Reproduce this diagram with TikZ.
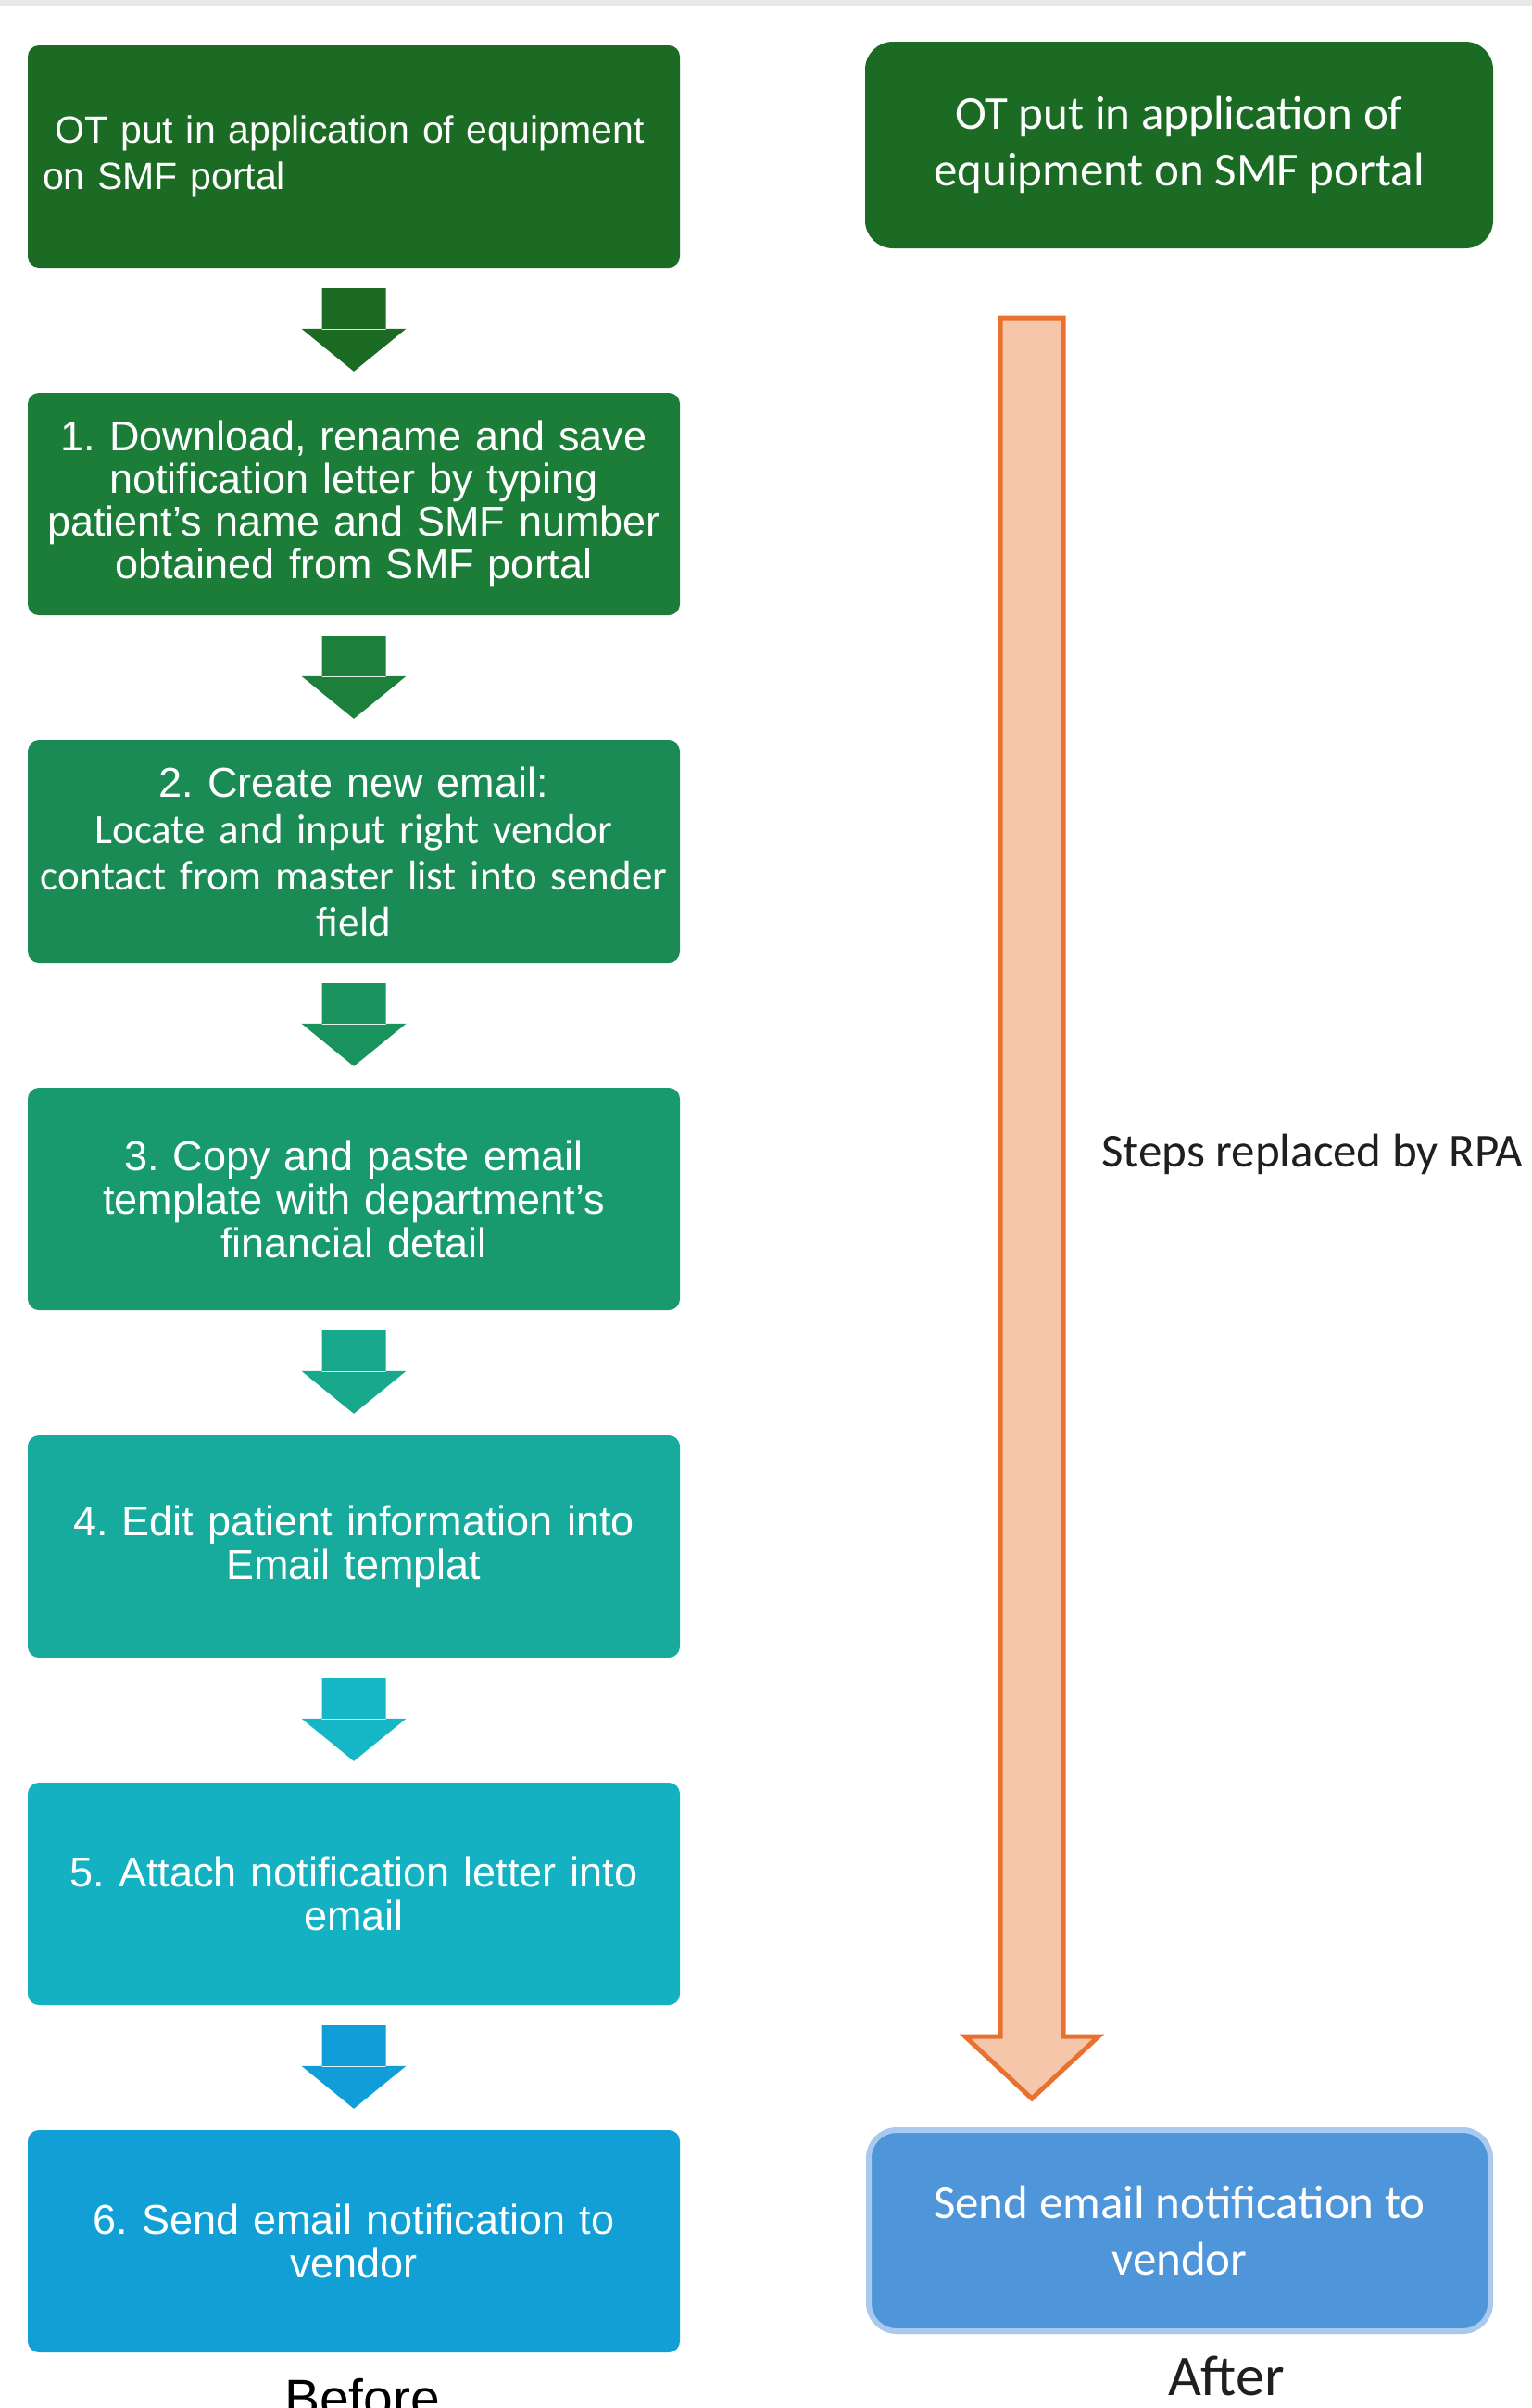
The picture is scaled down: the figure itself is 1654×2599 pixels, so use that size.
\documentclass[tikz,border=0pt]{standalone}
\usepackage{fontspec}
\setmainfont{Liberation Sans}
\newfontfamily\calibri{Carlito}
\usetikzlibrary{calc}
\frenchspacing

\definecolor{stepA}{HTML}{1B6B24}
\definecolor{stepB}{HTML}{1C7D38}
\definecolor{stepC}{HTML}{1B8B55}
\definecolor{stepD}{HTML}{19996E}
\definecolor{stepE}{HTML}{16AB9C}
\definecolor{stepF}{HTML}{14B1C3}
\definecolor{stepG}{HTML}{119FD6}
\definecolor{arrA}{HTML}{1B6B24}
\definecolor{arrB}{HTML}{1C7F3A}
\definecolor{arrC}{HTML}{1A935E}
\definecolor{arrD}{HTML}{18A88C}
\definecolor{arrE}{HTML}{15B7C6}
\definecolor{arrF}{HTML}{119ED8}
\definecolor{rpafill}{HTML}{F5C6AA}
\definecolor{rpaline}{HTML}{E9712F}
\definecolor{sendfill}{HTML}{4F95D9}
\definecolor{sendline}{HTML}{A9CAEE}

\begin{document}
\begin{tikzpicture}[x=1pt,y=-1pt,
  stepbox/.style={rounded corners=12pt, minimum width=704pt, minimum height=240pt,
    text width=700pt, inner sep=2pt, align=center, text=white,
    font=\fontsize{45}{47}\selectfont},
  afterbox/.style={rounded corners=30pt, minimum width=678pt, minimum height=223pt,
    align=center, text=white, font=\calibri\fontsize{51}{61}\selectfont}]

\useasboundingbox (0,0) rectangle (1654,2599);
\clip (0,0) rectangle (1654,2599);
\fill[gray!18] (0,0) rectangle (1654,7);

%%% Before

\node[stepbox, fill=stepA, align=left, text width=672pt, inner sep=16pt,
  font=\fontsize{41}{50}\selectfont] (s0) at (382,169)
  {\ OT put in application of equipment\\on SMF portal};
\node[stepbox, fill=stepB, font=\fontsize{45}{46}\selectfont] (s1) at (382,544)
  {1. Download, rename and save\\notification letter by typing\\patient's name and SMF number\\obtained from SMF portal};
\node[stepbox, fill=stepC, font=\fontsize{45}{50}\selectfont] (s2) at (382,919)
  {2. Create new email:\\\calibri\fontsize{45}{50}\selectfont Locate and input right vendor\\contact from master list into sender\\field};
\node[stepbox, fill=stepD] (s3) at (382,1294)
  {3. Copy and paste email\\template with department's\\financial detail};
\node[stepbox, fill=stepE] (s4) at (382,1669)
  {4. Edit patient information into\\Email templat};
\node[stepbox, fill=stepF] (s5) at (382,2044)
  {5. Attach notification letter into\\email};
\node[stepbox, fill=stepG] (s6) at (382,2419)
  {6. Send email notification to\\vendor};

% arrows
\fill[arrA] ($(s0.south)+(-34.5,22)$) rectangle ($(s1.north)+(34.5,-68)$)
  ($(s1.north)+(-56.5,-69)$) -- ($(s1.north)+(56.5,-69)$) -- ($(s1.north)+(0,-23)$) -- cycle;
\fill[arrB] ($(s1.south)+(-34.5,22)$) rectangle ($(s2.north)+(34.5,-68)$)
  ($(s2.north)+(-56.5,-69)$) -- ($(s2.north)+(56.5,-69)$) -- ($(s2.north)+(0,-23)$) -- cycle;
\fill[arrC] ($(s2.south)+(-34.5,22)$) rectangle ($(s3.north)+(34.5,-68)$)
  ($(s3.north)+(-56.5,-69)$) -- ($(s3.north)+(56.5,-69)$) -- ($(s3.north)+(0,-23)$) -- cycle;
\fill[arrD] ($(s3.south)+(-34.5,22)$) rectangle ($(s4.north)+(34.5,-68)$)
  ($(s4.north)+(-56.5,-69)$) -- ($(s4.north)+(56.5,-69)$) -- ($(s4.north)+(0,-23)$) -- cycle;
\fill[arrE] ($(s4.south)+(-34.5,22)$) rectangle ($(s5.north)+(34.5,-68)$)
  ($(s5.north)+(-56.5,-69)$) -- ($(s5.north)+(56.5,-69)$) -- ($(s5.north)+(0,-23)$) -- cycle;
\fill[arrF] ($(s5.south)+(-34.5,22)$) rectangle ($(s6.north)+(34.5,-68)$)
  ($(s6.north)+(-56.5,-69)$) -- ($(s6.north)+(56.5,-69)$) -- ($(s6.north)+(0,-23)$) -- cycle;

\node[anchor=base, font=\fontsize{57}{60}\selectfont] (before) at (391,2608) {Before};

%%% After

\node[afterbox, fill=stepA] (r0) at (1273,156.5)
  {OT put in application of\\equipment on SMF portal};
\node[afterbox, fill=sendfill, draw=sendline, line width=6pt,
  minimum width=671pt, minimum height=217pt] (r1) at (1273.5,2407.5)
  {Send email notification to\\vendor};

\coordinate (rtop) at ($(r0.south)+(-159,75)$);
\coordinate (rtip) at ($(r1.north)+(-159.5,-31)$);
\filldraw[fill=rpafill, draw=rpaline, line width=5pt]
  ($(rtop)+(-34,0)$) -- ($(rtop)+(34,0)$) -- ($(rtip)+(34,-67)$) -- ($(rtip)+(72,-67)$)
  -- (rtip) -- ($(rtip)+(-72,-67)$) -- ($(rtip)+(-34,-67)$) -- cycle;

\node[anchor=west, inner sep=0pt, text=black!88, font=\calibri\fontsize{51}{60}\selectfont]
  (rpa) at (1189,1246) {Steps replaced by RPA};

\node[anchor=base, text=black!88, font=\calibri\fontsize{62}{70}\selectfont] (after) at (1324,2585) {After};

\end{tikzpicture}
\end{document}
